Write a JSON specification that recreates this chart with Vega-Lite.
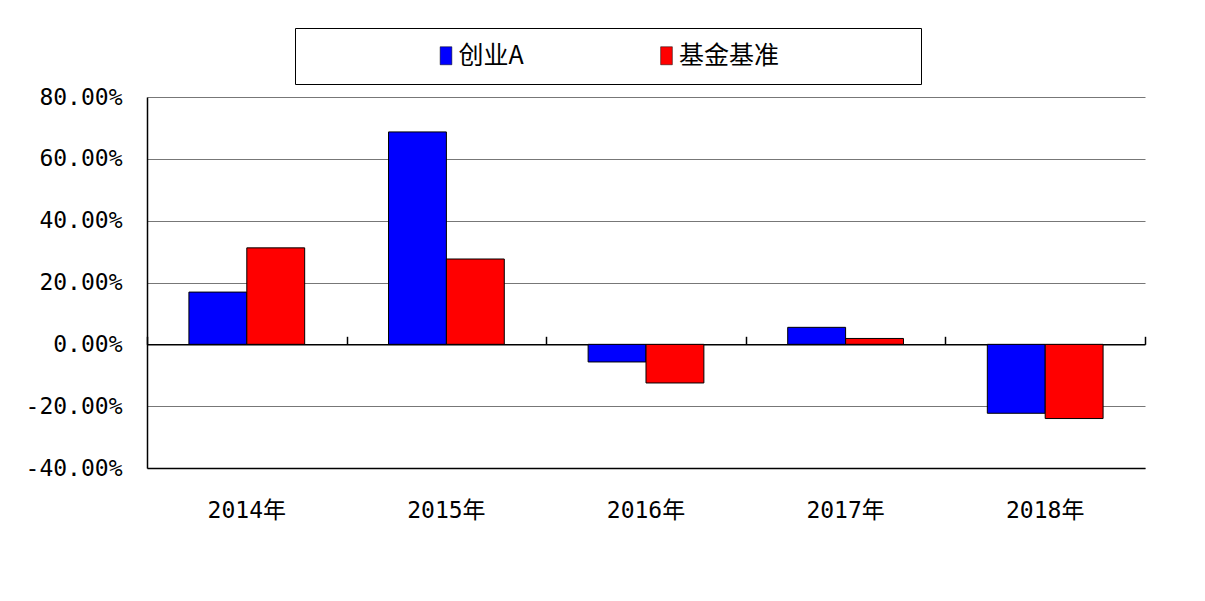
{
  "$schema": "https://vega.github.io/schema/vega-lite/v6.json",
  "width": 998,
  "height": 371,
  "autosize": {"type": "none"},
  "padding": {"left": 147, "top": 97, "right": 60, "bottom": 133},
  "background": "white",
  "data": {
    "values": [
      {"year": "2014年", "series": "创业A", "value": 0.169},
      {"year": "2014年", "series": "基金基准", "value": 0.312},
      {"year": "2015年", "series": "创业A", "value": 0.687},
      {"year": "2015年", "series": "基金基准", "value": 0.276},
      {"year": "2016年", "series": "创业A", "value": -0.057},
      {"year": "2016年", "series": "基金基准", "value": -0.125},
      {"year": "2017年", "series": "创业A", "value": 0.055},
      {"year": "2017年", "series": "基金基准", "value": 0.019},
      {"year": "2018年", "series": "创业A", "value": -0.223},
      {"year": "2018年", "series": "基金基准", "value": -0.240}
    ]
  },
  "resolve": {"axis": {"x": "independent"}, "scale": {"x": "independent"}},
  "layer": [
    {
      "mark": {"type": "bar", "stroke": "black", "strokeWidth": 1},
      "encoding": {
        "x": {
          "field": "year", "type": "nominal", "sort": null,
          "scale": {"paddingInner": 0.42, "paddingOuter": 0.21},
          "axis": {
            "orient": "bottom", "title": null, "ticks": false, "grid": false,
            "domain": true, "domainColor": "black", "domainWidth": 1.5,
            "labelFont": "DejaVu Sans Mono, Noto Sans CJK SC", "labelFontSize": 23,
            "labelColor": "black", "labelPadding": 31, "labelAngle": 0
          }
        },
        "xOffset": {"field": "series", "type": "nominal", "sort": ["创业A", "基金基准"]},
        "y": {
          "field": "value", "type": "quantitative",
          "scale": {"domain": [-0.4, 0.8], "nice": false, "zero": false},
          "axis": {
            "title": null, "values": [-0.4, -0.2, 0, 0.2, 0.4, 0.6, 0.8],
            "format": ".2%", "grid": true, "gridColor": "#777777", "gridWidth": 1,
            "domain": true, "domainColor": "black", "domainWidth": 1.5,
            "ticks": false,
            "labelPadding": 25, "labelFont": "DejaVu Sans Mono", "labelFontSize": 23,
            "labelColor": "black"
          }
        },
        "color": {
          "field": "series", "type": "nominal",
          "scale": {"domain": ["创业A", "基金基准"], "range": ["#0000FF", "#FF0000"]},
          "legend": {
            "orient": "none", "legendX": 148, "legendY": -69,
            "direction": "horizontal", "columns": 2,
            "title": "\u3000", "titleOrient": "right", "titleFontSize": 1, "titlePadding": 127,
            "padding": 15, "strokeColor": "black", "fillColor": "white",
            "symbolType": "M-0.65,-1H0.65V1H-0.65Z", "symbolSize": 324, "symbolOffset": 123.5,
            "symbolStrokeColor": "black", "symbolStrokeWidth": 0.5, "symbolOpacity": 1,
            "labelFont": "Noto Sans CJK SC", "labelFontSize": 25, "labelColor": "black",
            "labelOffset": 0, "labelLimit": 400, "columnPadding": 6.5
          }
        }
      }
    },
    {
      "mark": {"type": "tick", "opacity": 0},
      "encoding": {
        "x": {
          "field": "year", "type": "nominal", "sort": null,
          "scale": {"paddingInner": 0, "paddingOuter": 0},
          "axis": {
            "orient": "top", "offset": -247.3, "title": null, "labels": false,
            "ticks": true, "tickBand": "extent", "tickSize": 8, "tickColor": "black",
            "tickWidth": 1.5, "domain": true, "domainColor": "black", "domainWidth": 1.5,
            "grid": false
          }
        }
      }
    }
  ],
  "config": {
    "view": {"stroke": null},
    "locale": {
      "number": {"decimal": ".", "thousands": ",", "grouping": [3], "currency": ["$", ""], "minus": "-"}
    }
  }
}
